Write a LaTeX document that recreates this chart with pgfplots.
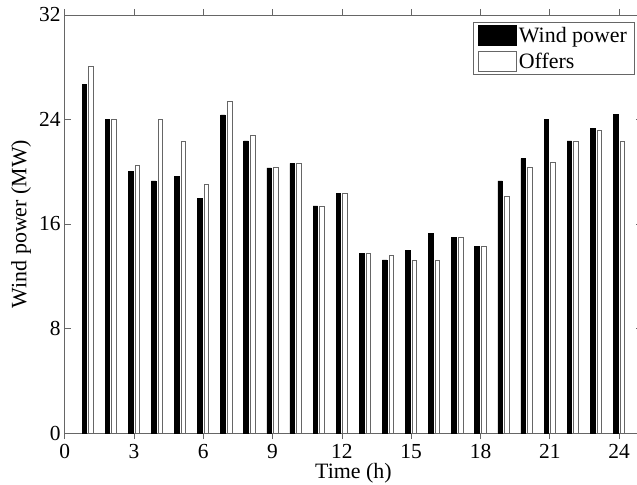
\documentclass[border=0pt]{standalone}
\usepackage{fontspec}
\setmainfont{Liberation Serif}
\usepackage{pgfplots}
\usepackage{pgfplotstable}
\pgfplotsset{compat=1.18}
\pgfplotstableread{
h wind offer
1 26.7 28.05
2 24.0 24.0
3 20.0 20.5
4 19.3 24.0
5 19.65 22.35
6 17.97 19.0
7 24.35 25.37
8 22.36 22.8
9 20.3 20.3
10 20.65 20.65
11 17.38 17.38
12 18.35 18.35
13 13.76 13.76
14 13.25 13.58
15 14.0 13.25
16 15.3 13.2
17 15.0 15.0
18 14.3 14.3
19 19.3 18.15
20 21.0 20.35
21 24.0 20.7
22 22.36 22.36
23 23.33 23.2
24 24.4 22.36
}\datatable
\begin{document}
\begin{tikzpicture}
\begin{axis}[
  scale only axis,
  width=577.5bp, height=418bp,
  xmin=0, xmax=25, ymin=0, ymax=32,
  enlargelimits=false,
  xtick={0,3,...,24}, ytick={0,8,16,24,32},
  xtick pos=both, ytick pos=both,
  tick align=inside,
  major tick length=6bp,
  axis line style={draw=black!60, line width=0.8bp},
  every tick/.style={draw=black!60, line width=0.8bp},
  /pgf/number format/assume math mode=true,
  tick label style={font=\fontsize{21.5}{24}\selectfont, inner sep=0.5bp},
  xticklabel style={yshift=-4.5bp},
  yticklabel style={xshift=-3.5bp},
  xlabel={Time (h)},
  ylabel={Wind power (MW)},
  label style={font=\fontsize{22}{25}\selectfont, inner sep=1bp},
  xlabel style={at={(axis description cs:0.5,0)}, anchor=base, yshift=-45.5bp},
  ylabel style={at={(axis description cs:-0.0755,0.5)}, anchor=center},
  ybar,
  bar width=0.2,
  legend style={at={(0.7065,0.984)}, anchor=north west, draw=black!60, line width=0.8bp,
    font=\fontsize{22}{25.7}\selectfont, inner xsep=5bp, inner ysep=3bp, row sep=5bp,
    legend cell align=left,
    /tikz/every even column/.append style={column sep=6bp}},
  legend image code/.code={\draw[#1] (0bp,-10bp) rectangle (38bp,10bp);},
]
\addplot[fill=black, draw=black, line width=0.5bp, bar shift=-0.15] table[x=h, y=wind] {\datatable};
\addplot[fill=white, draw=black!60, line width=0.8bp, bar shift=0.14] table[x=h, y=offer] {\datatable};
\legend{Wind power, Offers}
\coordinate (bl) at (rel axis cs:0,0);
\coordinate (tr) at (rel axis cs:1,1);
\end{axis}
\pgfresetboundingbox
\path[use as bounding box] ([xshift=-64.7bp,yshift=-52bp]bl) rectangle ([xshift=-5.2bp,yshift=15bp]tr);
\end{tikzpicture}
\end{document}
